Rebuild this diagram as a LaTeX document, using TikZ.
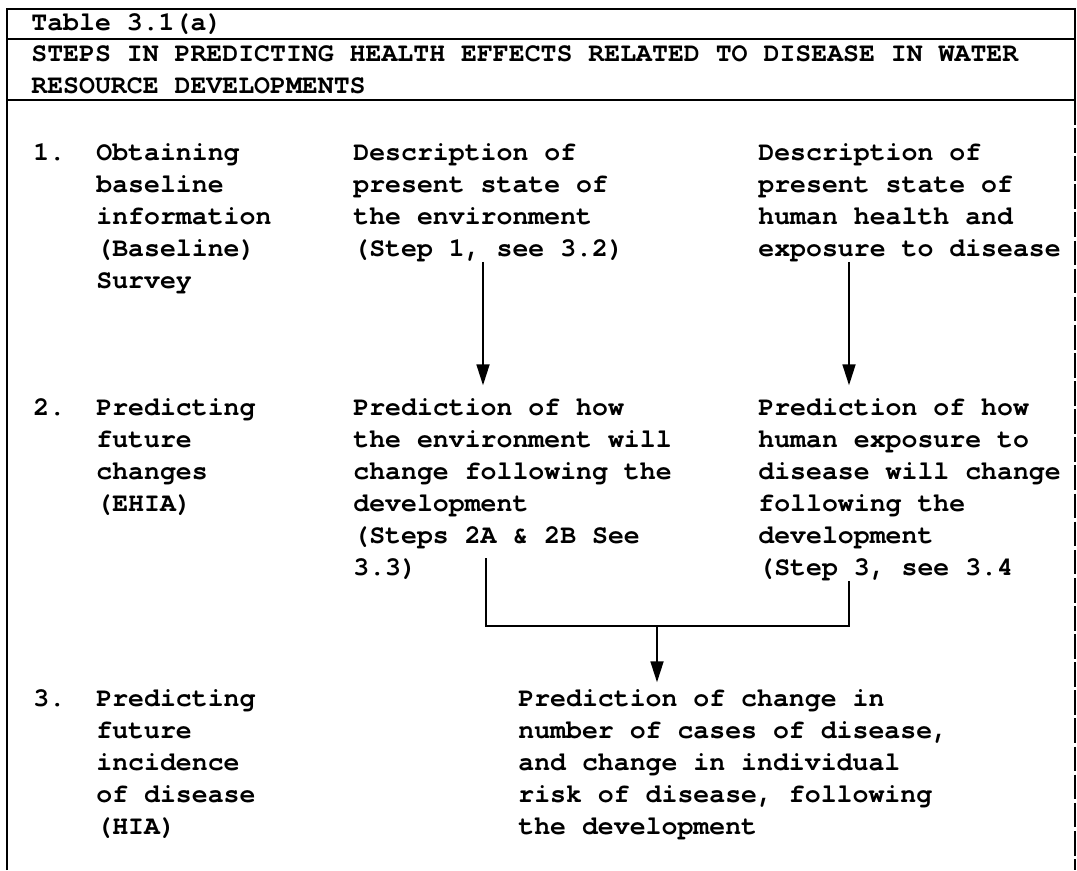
\documentclass[tikz,border=0pt]{standalone}
\usepackage{fontspec}
\setmonofont{TeX Gyre Cursor}
\usetikzlibrary{arrows.meta}

\tikzset{
    txt/.style={anchor=base west, align=left, inner sep=0pt,
        font=\ttfamily\bfseries\fontsize{15.1}{18.2}\selectfont},
    rule/.style={line width=1.1pt},
    flow/.style={line width=1pt, -{Triangle[length=0.42cm,width=0.26cm]}},
}

\begin{document}
\begin{tikzpicture}[x=0.02cm, y=-0.02cm]
        \useasboundingbox (0,0) rectangle (1077,870);

        % frame
        \draw[rule] (7,870) -- (7,9) -- (1075,9) -- (1075,100);
        \draw[rule] (7,39) -- (1075,39);
        \draw[rule] (7,100) -- (1075,100);
        \draw[line width=0.8pt, dash pattern=on 14pt off 2pt] (1075,100) -- (1075,870);

        % nodes sit on the baseline of their last line
        \node[txt] (tab) at (31,30) {Table 3.1(a)};
        \node[txt] (title) at (31,93.5) {STEPS IN PREDICTING HEALTH EFFECTS RELATED TO DISEASE IN WATER\\RESOURCE DEVELOPMENTS};

        % step 1
        \node[txt] (n1) at (33,160) {1.};
        \node[txt] (base) at (96,288) {Obtaining\\baseline\\information\\(Baseline)\\Survey};
        \node[txt] (env1) at (353,256) {Description of\\present state of\\the environment\\(Step 1, see 3.2)};
        \node[txt] (hum1) at (758,256) {Description of\\present state of\\human health and\\exposure to disease};

        % step 2
        \node[txt] (n2) at (33,415) {2.};
        \node[txt] (ehia) at (96,511) {Predicting\\future\\changes\\(EHIA)};
        \node[txt] (env2) at (353,575) {Prediction of how\\the environment will\\change following the\\development\\(Steps 2A \& 2B See\\3.3)};
        \node[txt] (hum2) at (758,575) {Prediction of how\\human exposure to\\disease will change\\following the\\development\\(Step 3, see 3.4};

        % step 3
        \node[txt] (n3) at (33,706) {3.};
        \node[txt] (hia) at (96,834) {Predicting\\future\\incidence\\of disease\\(HIA)};
        \node[txt] (risk) at (518,834) {Prediction of change in\\number of cases of disease,\\and change in individual\\risk of disease, following\\the development};

        \coordinate (ex) at (483,0);
        \coordinate (hx) at (849,0);
        \coordinate (jl) at (486,558);
        \coordinate (jm) at (657,626);

        \draw[flow, shorten >=0.25cm] (env1.south -| ex) -- (env2.north -| ex);
        \draw[flow, shorten >=0.25cm] (hum1.south -| hx) -- (hum2.north -| hx);
        \draw[line width=1.1pt] (jl) |- (jm) -| (hum2.south -| hx);
        \draw[line width=1.6pt] (jl |- jm) -- (jm -| hx);
        \draw[flow, shorten >=0.13cm] (jm) -- (risk.north -| jm);
\end{tikzpicture}
\end{document}
